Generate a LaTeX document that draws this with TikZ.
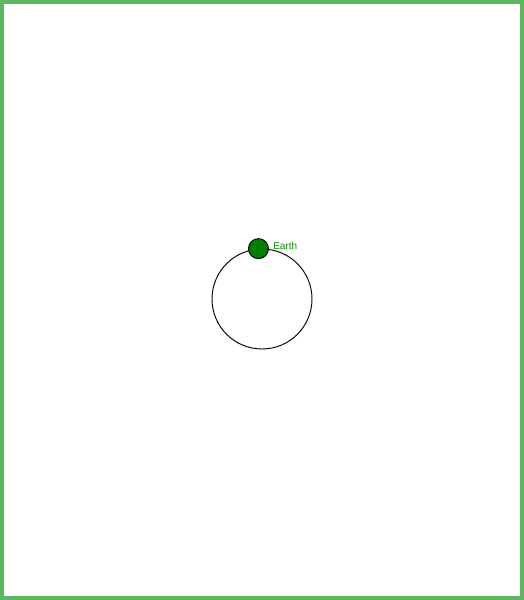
\documentclass[tikz,border=0pt]{standalone}
\usepackage{fontspec}
\setsansfont{Liberation Sans}
\usepackage{xcolor}
\usetikzlibrary{positioning}
\definecolor{frameGreen}{RGB}{92,184,92}
\definecolor{earthFill}{RGB}{0,128,0}
\definecolor{earthText}{RGB}{0,150,0}

\begin{document}
\begin{tikzpicture}[x=0.75pt, y=0.75pt]
  \useasboundingbox (0,0) rectangle (524,600);
  % Frame
  \draw[frameGreen, line width=3pt] (2,2) rectangle (522,598);

  % Orbit
  \node[circle, draw, line width=0.7pt, minimum size=75pt, inner sep=0pt] (orbit) at (262,301) {};

  % Earth on the orbit
  \node[circle, draw, line width=0.7pt, fill=earthFill, minimum size=15pt, inner sep=0pt] (earth) at (orbit.94.5) {};
  \node[font=\sffamily\fontsize{7.5}{9}\selectfont, text=earthText, anchor=west, inner sep=0pt] (earthLabel) at (273,354.5) {Earth};
\end{tikzpicture}
\end{document}
